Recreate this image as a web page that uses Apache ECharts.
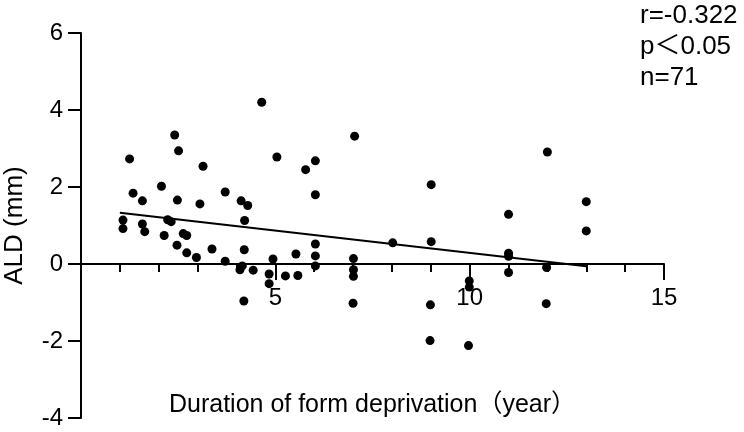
<!DOCTYPE html>
<html>
<head>
<meta charset="utf-8">
<title>ALD vs duration of form deprivation</title>
<script src="https://cdn.jsdelivr.net/npm/echarts@6/dist/echarts.min.js"></script>
<style>
    html, body { margin: 0; padding: 0; background: #fff; }
    #chart { width: 744px; height: 432px; }
</style>
</head>
<body>
<div id="chart"></div>
<script>
// duration of form deprivation (year) and ALD (mm)
const duration = [
    1.25, 1.34, 1.58, 1.08, 1.08, 1.58, 1.64, 2.07, 2.41, 2.51,
    2.48, 2.23, 2.32, 2.14, 2.63, 2.72, 2.47, 2.72, 2.97, 3.14,
    3.06, 3.37, 3.71, 3.71, 4.12, 4.29, 4.21, 4.20, 4.09, 4.15,
    4.43, 4.65, 5.04, 4.94, 4.84, 4.84, 5.26, 5.53, 5.58, 4.19,
    6.03, 6.03, 6.03, 7.01, 7.01, 7.01, 7.00, 7.04, 5.78, 6.03,
    6.03, 9.01, 12.0, 13.0, 11.0, 8.02, 9.01, 13.0, 11.0, 11.0,
    11.0, 11.98, 11.97, 9.99, 9.99, 8.99, 8.98, 9.97
]
const ald = [
    2.73, 1.84, 1.64, 1.14, 0.92, 1.04, 0.84, 2.02, 3.35, 2.94,
    1.66, 1.15, 1.10, 0.74, 0.79, 0.74, 0.49, 0.29, 0.17, 2.54,
    1.56, 0.39, 0.07, 1.87, 1.64, 1.52, 1.13, 0.37, -0.15, -0.05,
    -0.16, 4.20, 2.78, 0.13, -0.26, -0.51, -0.31, 0.26, -0.30, -0.96,
    0.52, 0.21, -0.05, 0.14, -0.15, -0.32, -1.02, 3.32, 2.45, 2.68,
    1.80, 2.06, 2.91, 1.62, 1.29, 0.55, 0.58, 0.86, 0.28, 0.20,
    -0.22, -0.09, -1.03, -0.44, -0.60, -1.06, -1.99, -2.12
]

// fitted line end points
const fitX = [1, 13]
const fitY = [1.33, -0.06]

const statsLines = ['r=-0.322', 'p＜0.05', 'n=71']

const font = '"Liberation Sans", Arial, "Noto Sans CJK SC", sans-serif'

const chart = echarts.init(document.getElementById('chart'))

const points = duration.map((d, i) => [d, ald[i]])
const fit = fitX.map((d, i) => [d, fitY[i]])

// y = 0 sits 6/10 of the way down the grid; shift the x axis up to it
const gridTop = 33
const gridHeight = 385
const zeroOffset = -(gridHeight * 4 / 10)

const option = {
    animation: false,
    backgroundColor: '#fff',
    grid: {
        left: 81,
        top: gridTop,
        width: 583,
        height: gridHeight,
        containLabel: false,
        outerBoundsMode: 'none'
    },
    xAxis: {
        type: 'value',
        min: 0,
        max: 15,
        interval: 5,
        offset: zeroOffset,
        name: 'Duration of form deprivation（year）',
        nameLocation: 'middle',
        nameGap: 129,
        nameTextStyle: { color: '#000', fontSize: 25, fontFamily: font },
        axisLine: { onZero: false, lineStyle: { color: '#000', width: 2 } },
        axisTick: { length: 16, lineStyle: { color: '#000', width: 2 } },
        minorTick: { show: true, splitNumber: 5, length: 8, lineStyle: { color: '#000', width: 2 } },
        axisLabel: {
            margin: 22,
            color: '#000',
            fontSize: 24,
            fontFamily: font,
            formatter: v => (v === 0 ? '' : v)
        },
        splitLine: { show: false }
    },
    yAxis: {
        type: 'value',
        min: -4,
        max: 6,
        interval: 2,
        name: 'ALD (mm)',
        nameLocation: 'middle',
        nameGap: 53,
        nameTextStyle: { color: '#000', fontSize: 26, fontFamily: font },
        axisLine: { show: true, lineStyle: { color: '#000', width: 2 } },
        axisTick: { show: true, length: 13, lineStyle: { color: '#000', width: 2 } },
        axisLabel: { margin: 18, color: '#000', fontSize: 24, fontFamily: font },
        splitLine: { show: false }
    },
    graphic: [
        {
            type: 'text',
            left: 640,
            top: 0,
            style: {
                text: statsLines.join('\n'),
                fill: '#000',
                font: '26px ' + font,
                lineHeight: 31
            }
        }
    ],
    series: [
        {
            type: 'scatter',
            data: points,
            symbolSize: 9,
            itemStyle: { color: '#000', opacity: 1 }
        },
        {
            type: 'line',
            data: fit,
            showSymbol: false,
            lineStyle: { color: '#000', width: 2 },
            z: 3
        }
    ]
}

chart.setOption(option)
</script>
</body>
</html>
